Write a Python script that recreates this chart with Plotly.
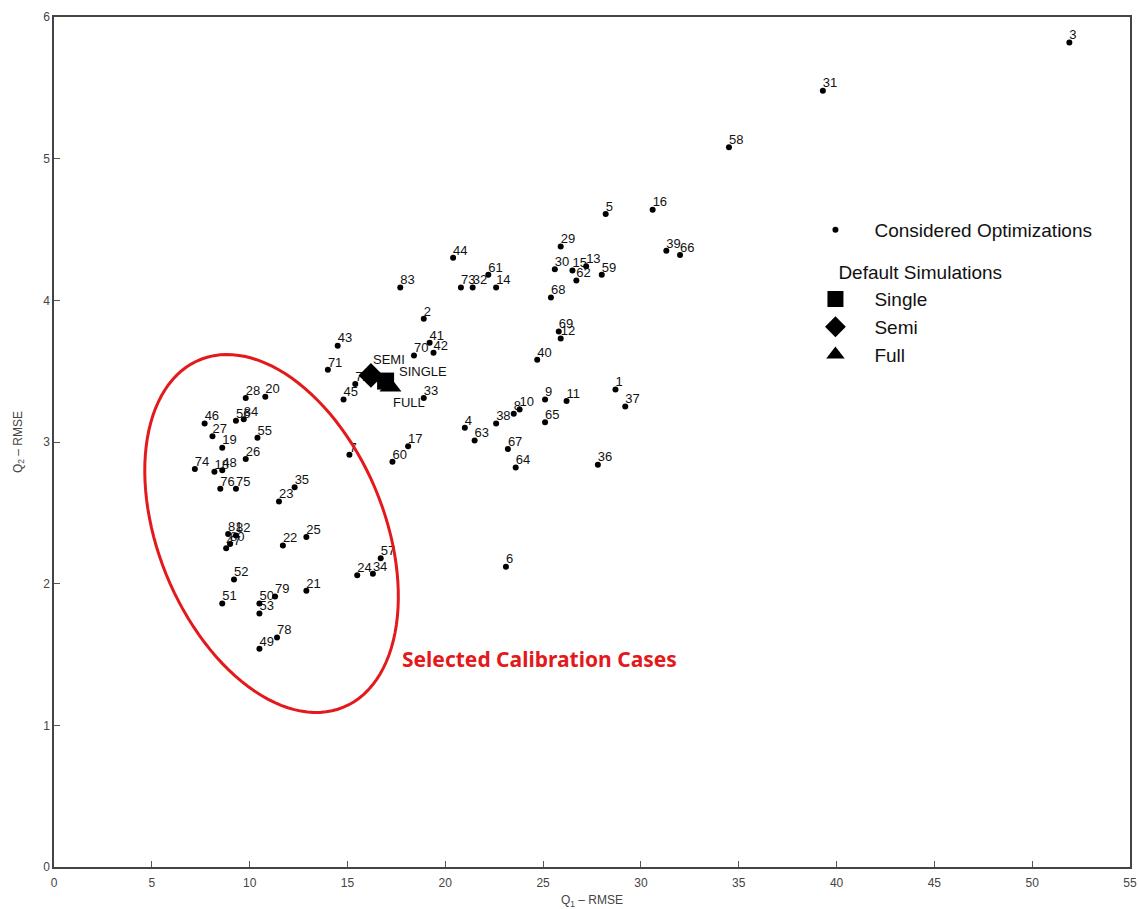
import numpy as np
import plotly.graph_objects as go

# ---- data: considered optimizations (id, Q1-RMSE, Q2-RMSE) ----
ids = [1, 2, 3, 4, 5, 6, 7, 8, 9, 10, 11, 12, 13, 14, 15, 16, 17, 18, 19, 20,
       21, 22, 23, 24, 25, 26, 27, 28, 29, 30, 31, 32, 33, 34, 35, 36, 37, 38, 39, 40,
       41, 42, 43, 44, 45, 46, 47, 48, 49, 50, 51, 52, 53, 55, 56, 57, 58, 59, 60,
       61, 62, 63, 64, 65, 66, 67, 68, 69, 70, 71, 72, 73, 74, 75, 76, 78, 79, 80,
       81, 82, 83, 84]
q1 = [28.7, 18.9, 51.9, 21.0, 28.2, 23.1, 15.1, 23.5, 25.1, 23.8, 26.2, 25.9, 27.2, 22.6, 26.5, 30.6, 18.1, 8.2, 8.6, 10.8,
      12.9, 11.7, 11.5, 15.5, 12.9, 9.8, 8.1, 9.8, 25.9, 25.6, 39.3, 21.4, 18.9, 16.3, 12.3, 27.8, 29.2, 22.6, 31.3, 24.7,
      19.2, 19.4, 14.5, 20.4, 14.8, 7.7, 8.8, 8.6, 10.5, 10.5, 8.6, 9.2, 10.5, 10.4, 9.3, 16.7, 34.5, 28.0, 17.3,
      22.2, 26.7, 21.5, 23.6, 25.1, 32.0, 23.2, 25.4, 25.8, 18.4, 14.0, 15.4, 20.8, 7.2, 9.3, 8.5, 11.4, 11.3, 9.0,
      8.9, 9.3, 17.7, 9.7]
q2 = [3.37, 3.87, 5.82, 3.10, 4.61, 2.12, 2.91, 3.20, 3.30, 3.23, 3.29, 3.73, 4.24, 4.09, 4.21, 4.64, 2.97, 2.79, 2.96, 3.32,
      1.95, 2.27, 2.58, 2.06, 2.33, 2.88, 3.04, 3.31, 4.38, 4.22, 5.48, 4.09, 3.31, 2.07, 2.68, 2.84, 3.25, 3.13, 4.35, 3.58,
      3.70, 3.63, 3.68, 4.30, 3.30, 3.13, 2.25, 2.80, 1.54, 1.86, 1.86, 2.03, 1.79, 3.03, 3.15, 2.18, 5.08, 4.18, 2.86,
      4.18, 4.14, 3.01, 2.82, 3.14, 4.32, 2.95, 4.02, 3.78, 3.61, 3.51, 3.41, 4.09, 2.81, 2.67, 2.67, 1.62, 1.91, 2.28,
      2.35, 2.34, 4.09, 3.16]

# ---- default simulations ----
default_names = ["Single", "Semi", "Full"]
default_labels = ["SINGLE", "SEMI", "FULL"]
default_q1 = [16.95, 16.2, 17.2]
default_q2 = [3.43, 3.47, 3.39]

x_ticks = list(range(0, 56, 5))
y_ticks = list(range(0, 7))

FONT = "Liberation Sans, Arial, sans-serif"

fig = go.Figure()

# id labels (text only, drawn under the default-simulation markers)
fig.add_trace(go.Scatter(
    x=q1, y=q2, mode="text", text=[str(i) for i in ids],
    textposition="top right", textfont=dict(family=FONT, size=13, color="#111"),
    showlegend=False, hoverinfo="skip", cliponaxis=False))

fig.add_trace(go.Scatter(
    x=q1, y=q2, mode="markers",
    marker=dict(color="black", size=6), name="Considered Optimizations",
    legendgroup="opt", cliponaxis=False))

symbols = {"Single": "square", "Semi": "diamond", "Full": "triangle-up"}
sizes = {"Single": 17, "Semi": 19, "Full": 19}
for k, nm in enumerate(default_names):
    fig.add_trace(go.Scatter(
        x=[default_q1[k]], y=[default_q2[k]], mode="markers",
        marker=dict(color="black", size=sizes[nm], symbol=symbols[nm]),
        name=nm, legendgroup="def",
        legendgrouptitle=dict(text="&nbsp;&nbsp;&nbsp;&nbsp;&nbsp;&nbsp;&nbsp;Default Simulations",
                              font=dict(family=FONT, size=19, color="#111"))))

# labels of the default simulations
lab_style = {"Single": dict(xanchor="left", yanchor="middle", xshift=11, yshift=10),
             "Semi": dict(xanchor="left", yanchor="bottom", xshift=0, yshift=6),
             "Full": dict(xanchor="left", yanchor="top", xshift=1, yshift=-6)}
for k, nm in enumerate(default_names):
    fig.add_annotation(x=default_q1[k], y=default_q2[k], xref="x", yref="y", text=default_labels[k],
                       showarrow=False, font=dict(family=FONT, size=13, color="#111"), **lab_style[nm])

# ---- selection ellipse (proportions taken in plot-area pixels) ----
W_px, H_px = 1076.0, 850.0
sx, sy = W_px / 55.0, H_px / 6.0
cx, cy = 11.12, 2.354
a_px, b_px, ang = 188.0, 113.0, np.deg2rad(22.5)
t = np.linspace(0, 2 * np.pi, 120)
ux, uy = np.sin(ang), np.cos(ang)
vx, vy = np.cos(ang), -np.sin(ang)
px = a_px * np.cos(t) * ux + b_px * np.sin(t) * vx
py = a_px * np.cos(t) * uy + b_px * np.sin(t) * vy
ex = cx + px / sx
ey = cy - py / sy
path = "M " + " L ".join(f"{x:.4f},{y:.4f}" for x, y in zip(ex, ey)) + " Z"
fig.add_shape(type="path", path=path, xref="x", yref="y",
              line=dict(color="#e3191c", width=3), fillcolor="rgba(0,0,0,0)")

fig.add_annotation(x=17.7, y=1.47, xref="x", yref="y", text="<b>Selected Calibration Cases</b>",
                   showarrow=False, xanchor="left", yanchor="middle",
                   font=dict(family="Noto Sans, sans-serif", size=21, color="#e3191c"))

axis_common = dict(showgrid=False, zeroline=False, showline=True, linecolor="#444", linewidth=1.5,
                   mirror=True, ticks="inside", ticklen=6, tickcolor="#555", automargin=False,
                   ticklabeloverflow="allow",
                   tickfont=dict(family=FONT, size=12, color="#444"))

fig.update_layout(
    width=1139, height=909, plot_bgcolor="white", paper_bgcolor="white",
    margin=dict(l=54, r=9, t=17, b=42),
    xaxis=dict(range=[0, 55], tickvals=x_ticks, ticklabelstandoff=4,
               title=dict(text="Q<sub>1</sub> – RMSE", standoff=10,
                          font=dict(family=FONT, size=12, color="#444")), **axis_common),
    yaxis=dict(range=[0, 6], tickvals=y_ticks,
               title=dict(text="Q<sub>2</sub> – RMSE", standoff=18,
                          font=dict(family=FONT, size=12, color="#444")), **axis_common),
    legend=dict(x=0.690, y=0.772, xanchor="left", yanchor="top", bgcolor="rgba(0,0,0,0)",
                font=dict(family=FONT, size=19, color="#111"), tracegroupgap=14, itemwidth=68),
    showlegend=True,
)

fig.write_html("out.html", config={"displayModeBar": False},
               post_script="document.body.style.margin='0';document.body.style.overflow='hidden';")
